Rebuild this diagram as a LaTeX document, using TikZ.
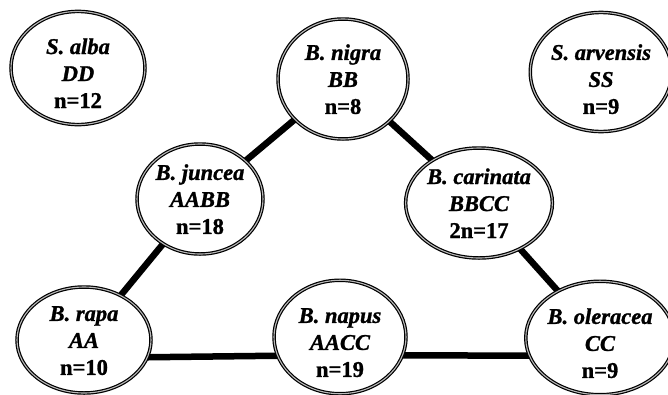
\documentclass[tikz,border=0pt]{standalone}
\usepackage{fontspec}
\setmainfont{Liberation Serif}[BoldFeatures={FakeBold=1.2},BoldItalicFeatures={FakeBold=1.2}]
\usetikzlibrary{shapes.geometric}
\pgfdeclarelayer{bg}
\pgfsetlayers{bg,main}
\tikzset{
  species/.style={ellipse, draw=black, fill=white, line width=1.2pt,
    double=gray!55, double distance=1.1pt, inner sep=0pt,
    minimum width=134pt, minimum height=110pt, align=center,
    font=\fontsize{22.5}{27}\selectfont\bfseries},
  link/.style={line width=6.5pt, black},
}
\newcommand{\splabel}[4][16pt]{\rule{0pt}{#1}{\itshape #2}\\{\itshape #3}\\#4}
\begin{document}
\begin{tikzpicture}[x=1pt,y=-1pt]
\useasboundingbox (0,0) rectangle (668,394);
\node[species] (alba) at (78,68) {\splabel[26pt]{S. alba}{DD}{n=12}};
\node[species, minimum width=130pt, minimum height=120pt] (nigra) at (343,79) {\splabel{B. nigra}{BB}{n=8}};
\node[species, minimum height=112pt] (arvensis) at (601,72) {\splabel[30pt]{S. arvensis}{SS}{n=9}};
\node[species, minimum width=126pt] (juncea) at (200,199) {\splabel{B. juncea}{AABB}{n=18}};
\node[species, minimum width=136pt] (carinata) at (479,203) {\splabel{B. carinata}{BBCC}{2n=17}};
\node[species, minimum height=106pt] (rapa) at (84,340) {\splabel{B. rapa}{AA}{n=10}};
\node[species, minimum width=132pt] (napus) at (340,337) {\splabel[26pt]{B. napus}{AACC}{n=19}};
\node[species, minimum width=132pt] (oleracea) at (600,338) {\splabel[26pt]{B. oleracea}{CC}{n=9}};
\begin{pgfonlayer}{bg}
\draw[link] (rapa) -- (juncea);
\draw[link] (juncea) -- (nigra);
\draw[link] (nigra) -- (carinata);
\draw[link] (carinata) -- (oleracea);
\draw[link] ([yshift=-18pt]rapa.center) -- ([yshift=-18pt]napus.center);
\draw[link] ([yshift=-18pt]napus.center) -- ([yshift=-18pt]oleracea.center);
\end{pgfonlayer}
\end{tikzpicture}
\end{document}
